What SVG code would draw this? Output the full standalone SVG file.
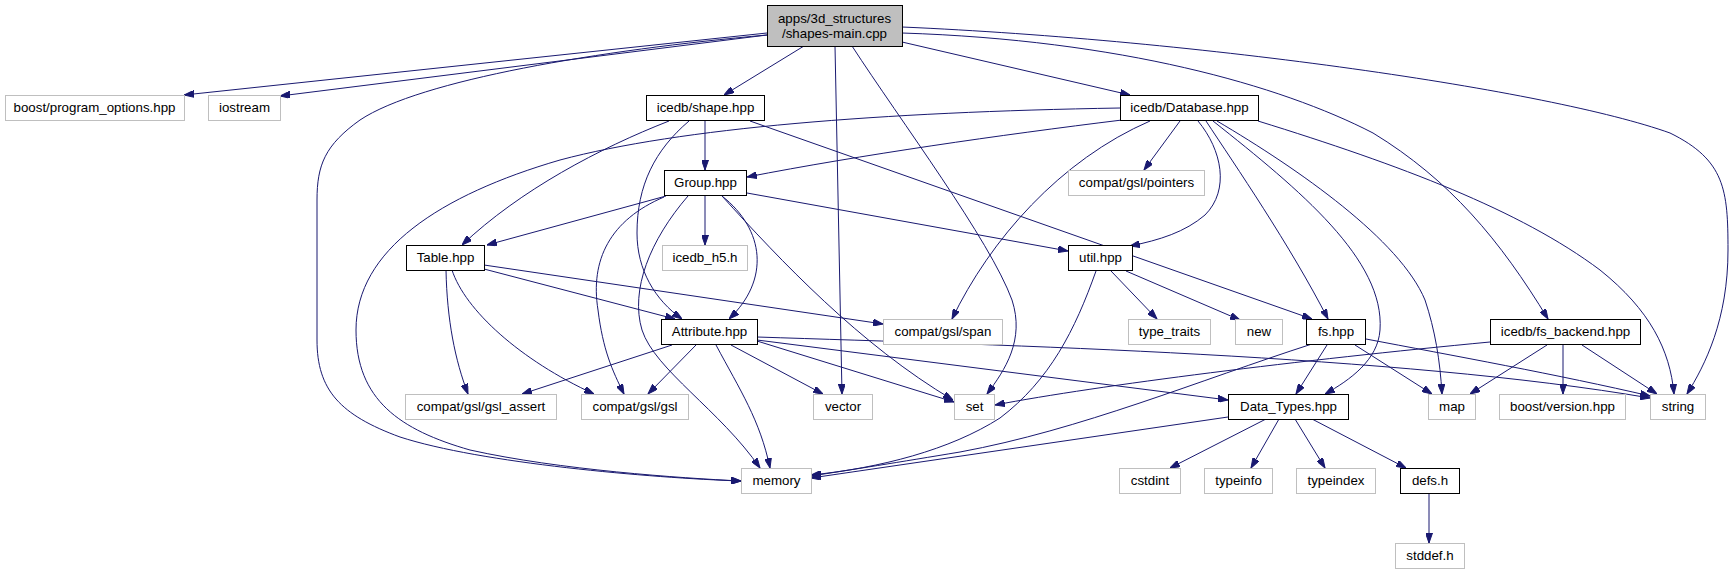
<svg xmlns="http://www.w3.org/2000/svg" width="1733" height="575" viewBox="0 0 1733 575">
<style>
.n rect{fill:#fff;stroke:#000;stroke-width:1}
.g rect{fill:#fff;stroke:#bfbfbf;stroke-width:1}
.m rect{fill:#bfbfbf;stroke:#000;stroke-width:1}
text{font-family:"Liberation Sans",Arial,sans-serif;font-size:13.3px;fill:#000;text-anchor:middle}
#edges path{fill:none;stroke:#191970;stroke-width:1;marker-end:url(#ah)}
</style>
<defs>
<marker id="ah" viewBox="0 0 10 7" refX="10" refY="3.5" markerWidth="10" markerHeight="7" markerUnits="userSpaceOnUse" orient="auto">
<path d="M0,0 L10,3.5 L0,7 z" fill="#191970" stroke="#191970"/>
</marker>
</defs>
<rect width="1733" height="575" fill="#fff"/>
<g id="edges">
<path d="M767,33 L184,95"/>
<path d="M767,35 L280,96"/>
<path d="M767,35 C600,50 420,80 360,120 C325,145 317,165 317,200 L317,340 C317,390 340,415 400,437 C480,463 650,478 741,481"/>
<path d="M804,46 L724,95"/>
<path d="M835,46 L842,394"/>
<path d="M852,46 C900,120 990,240 1012,300 C1025,340 1005,370 987,394"/>
<path d="M902,42 L1130,95"/>
<path d="M902,33 C1120,40 1280,85 1373,133 C1450,180 1500,240 1548,319"/>
<path d="M902,27 C1200,40 1550,90 1670,133 C1725,160 1728,190 1728,250 C1728,320 1705,365 1687,394"/>
<path d="M669,121 C600,148 520,190 462,245"/>
<path d="M689,121 C655,150 637,185 637,233 C637,270 655,300 682,319"/>
<path d="M705,120 L705,170"/>
<path d="M750,121 L1312,319"/>
<path d="M1120,108 C880,112 680,128 560,160 C440,195 356,250 356,330 C356,400 400,430 470,450 C560,470 680,478 741,481"/>
<path d="M1122,120 C1000,135 860,155 747,177"/>
<path d="M1180,121 L1144,170"/>
<path d="M1150,121 C1060,160 990,240 952,319"/>
<path d="M1198,121 C1222,150 1230,190 1205,215 C1185,232 1160,240 1130,246"/>
<path d="M1206,121 C1235,165 1290,245 1328,319"/>
<path d="M1213,121 C1300,190 1385,260 1380,330 C1378,360 1350,380 1325,394"/>
<path d="M1217,121 C1300,170 1400,240 1425,300 C1435,330 1440,360 1442,394"/>
<path d="M1258,121 C1400,165 1520,210 1600,270 C1650,310 1670,350 1674,394"/>
<path d="M666,196 L487,245"/>
<path d="M705,195 L705,245"/>
<path d="M747,193 L1068,251"/>
<path d="M722,196 C765,230 770,280 729,319"/>
<path d="M722,196 C780,260 860,345 953,400"/>
<path d="M664,197 C610,220 590,260 598,310 C603,350 612,370 624,394"/>
<path d="M688,196 C650,240 630,290 642,330 C655,370 720,410 760,468"/>
<path d="M484,269 L675,319"/>
<path d="M484,265 L883,324"/>
<path d="M446,270 C447,320 455,360 468,394"/>
<path d="M452,270 C465,310 520,360 594,394"/>
<path d="M1096,271 C1075,330 1050,380 1000,418 C950,450 880,468 811,475"/>
<path d="M1111,271 L1157,319"/>
<path d="M1126,271 L1240,320"/>
<path d="M672,345 L522,394"/>
<path d="M696,345 L648,394"/>
<path d="M716,345 C740,390 760,420 770,468"/>
<path d="M731,345 L823,394"/>
<path d="M757,341 L954,402"/>
<path d="M757,340 L1228,400"/>
<path d="M757,337 C1000,345 1400,355 1650,398"/>
<path d="M1312,344 C1200,380 1080,430 960,452 C900,462 850,470 811,476"/>
<path d="M1327,345 L1296,394"/>
<path d="M1355,345 L1432,394"/>
<path d="M1366,339 C1450,355 1560,375 1650,396"/>
<path d="M1490,342 C1300,360 1100,385 995,405"/>
<path d="M1547,345 L1470,394"/>
<path d="M1563,345 L1563,394"/>
<path d="M1582,345 L1657,394"/>
<path d="M1228,417 L811,478"/>
<path d="M1266,419 L1170,468"/>
<path d="M1279,419 L1251,468"/>
<path d="M1295,419 L1325,468"/>
<path d="M1312,419 L1406,468"/>
<path d="M1429,494 L1429,543"/>
</g>
<g id="main" class="m"><rect x="767.5" y="5.5" width="135" height="41"/><text x="834.5" y="22.5">apps/3d_structures</text><text x="834.5" y="37.5">/shapes-main.cpp</text></g>
<g id="boost_po" class="g"><rect x="5.5" y="95.5" width="179" height="25"/><text x="94.5" y="112">boost/program_options.hpp</text></g>
<g id="iostream" class="g"><rect x="208.5" y="95.5" width="72" height="25"/><text x="244.5" y="112">iostream</text></g>
<g id="shape" class="n"><rect x="646.5" y="95.5" width="118" height="25"/><text x="705.5" y="112">icedb/shape.hpp</text></g>
<g id="database" class="n"><rect x="1120.5" y="95.5" width="138" height="25"/><text x="1189.5" y="112">icedb/Database.hpp</text></g>
<g id="group" class="n"><rect x="664.5" y="170.5" width="82" height="25"/><text x="705.5" y="187">Group.hpp</text></g>
<g id="pointers" class="g"><rect x="1068.5" y="170.5" width="136" height="25"/><text x="1136.5" y="187">compat/gsl/pointers</text></g>
<g id="table" class="n"><rect x="406.5" y="245.5" width="78" height="25"/><text x="445.5" y="262">Table.hpp</text></g>
<g id="icedb_h5" class="g"><rect x="662.5" y="245.5" width="85" height="25"/><text x="705" y="262">icedb_h5.h</text></g>
<g id="util" class="n"><rect x="1068.5" y="245.5" width="64" height="25"/><text x="1100.5" y="262">util.hpp</text></g>
<g id="attribute" class="n"><rect x="661.5" y="319.5" width="96" height="25"/><text x="709.5" y="336">Attribute.hpp</text></g>
<g id="span" class="g"><rect x="883.5" y="319.5" width="119" height="25"/><text x="943" y="336">compat/gsl/span</text></g>
<g id="type_traits" class="g"><rect x="1128.5" y="319.5" width="82" height="25"/><text x="1169.5" y="336">type_traits</text></g>
<g id="new" class="g"><rect x="1235.5" y="319.5" width="47" height="25"/><text x="1259" y="336">new</text></g>
<g id="fs" class="n"><rect x="1306.5" y="319.5" width="59" height="25"/><text x="1336" y="336">fs.hpp</text></g>
<g id="fs_backend" class="n"><rect x="1490.5" y="319.5" width="150" height="25"/><text x="1565.5" y="336">icedb/fs_backend.hpp</text></g>
<g id="gsl_assert" class="g"><rect x="405.5" y="394.5" width="151" height="25"/><text x="481" y="411">compat/gsl/gsl_assert</text></g>
<g id="gsl" class="g"><rect x="581.5" y="394.5" width="107" height="25"/><text x="635" y="411">compat/gsl/gsl</text></g>
<g id="vector" class="g"><rect x="813.5" y="394.5" width="59" height="25"/><text x="843" y="411">vector</text></g>
<g id="set" class="g"><rect x="954.5" y="394.5" width="40" height="25"/><text x="974.5" y="411">set</text></g>
<g id="data_types" class="n"><rect x="1228.5" y="394.5" width="120" height="25"/><text x="1288.5" y="411">Data_Types.hpp</text></g>
<g id="map" class="g"><rect x="1428.5" y="394.5" width="47" height="25"/><text x="1452" y="411">map</text></g>
<g id="boost_version" class="g"><rect x="1499.5" y="394.5" width="126" height="25"/><text x="1562.5" y="411">boost/version.hpp</text></g>
<g id="string" class="g"><rect x="1650.5" y="394.5" width="55" height="25"/><text x="1678" y="411">string</text></g>
<g id="memory" class="g"><rect x="741.5" y="468.5" width="70" height="25"/><text x="776.5" y="485">memory</text></g>
<g id="cstdint" class="g"><rect x="1119.5" y="468.5" width="61" height="25"/><text x="1150" y="485">cstdint</text></g>
<g id="typeinfo" class="g"><rect x="1204.5" y="468.5" width="68" height="25"/><text x="1238.5" y="485">typeinfo</text></g>
<g id="typeindex" class="g"><rect x="1296.5" y="468.5" width="79" height="25"/><text x="1336" y="485">typeindex</text></g>
<g id="defs" class="n"><rect x="1400.5" y="468.5" width="59" height="25"/><text x="1430" y="485">defs.h</text></g>
<g id="stddef" class="g"><rect x="1395.5" y="543.5" width="69" height="25"/><text x="1430" y="560">stddef.h</text></g>
</svg>
